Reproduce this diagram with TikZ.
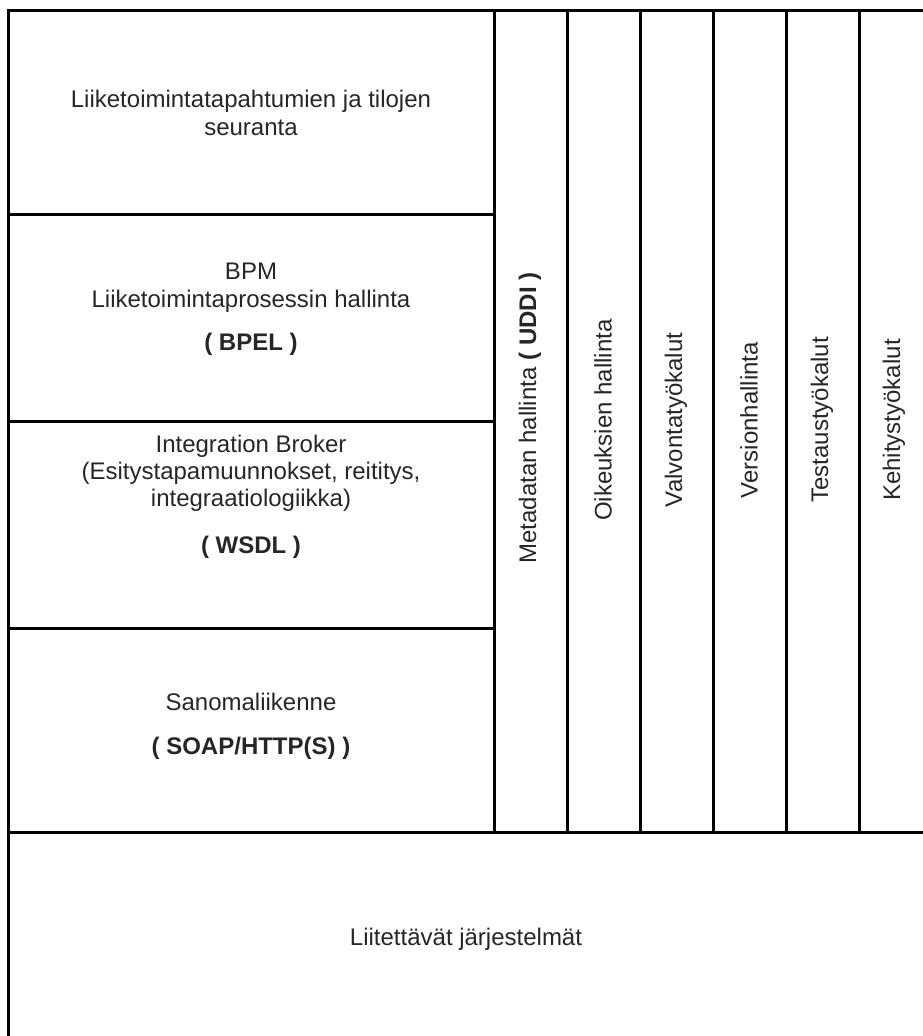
\documentclass[tikz,border=0pt]{standalone}
\usepackage{fontspec}
\setmainfont{Liberation Sans}
\begin{document}
\begin{tikzpicture}[x=1pt,y=-1pt,
  frame/.style={line width=3pt, draw=black, line join=miter},
  lbl/.style={font=\fontsize{24}{29}\selectfont, text=black!85, inner sep=0pt, anchor=base},
  vlbl/.style={font=\fontsize{24}{29}\selectfont, text=black!85, inner sep=0pt, rotate=90, anchor=center}]
\useasboundingbox (0,0) rectangle (923,1036);
% outer frame (top and left)
\draw[frame] (8,1036) -- (8,10) -- (923,10);
% left column separators
\draw[frame] (8,214) -- (494,214);
\draw[frame] (8,421) -- (494,421);
\draw[frame] (8,628) -- (494,628);
% bottom separator
\draw[frame] (8,832) -- (923,832);
% vertical columns
\foreach \x in {494,567,640,713,786,859}
  \draw[frame] (\x,10) -- (\x,832);
% row 1
\node[lbl] (r1a) at (251,107) {Liiketoimintatapahtumien ja tilojen};
\node[lbl] (r1b) at (251,135) {seuranta};
% row 2
\node[lbl] (r2a) at (251,279) {BPM};
\node[lbl] (r2b) at (251,307) {Liiketoimintaprosessin hallinta};
\node[lbl] (r2c) at (251,350) {\bfseries ( BPEL )};
% row 3
\node[lbl] (r3a) at (251,452) {Integration Broker};
\node[lbl] (r3b) at (251,479) {(Esitystapamuunnokset, reititys,};
\node[lbl] (r3c) at (251,506) {integraatiologiikka)};
\node[lbl] (r3d) at (251,553) {\bfseries ( WSDL )};
% row 4
\node[lbl] (r4a) at (251,710) {Sanomaliikenne};
\node[lbl] (r4b) at (251,754) {\bfseries ( SOAP/HTTP(S) )};
% bottom
\node[lbl] (r5) at (466,945) {Liitettävät järjestelmät};
% vertical labels
\node[vlbl] (c1) at (530,418) {Metadatan hallinta \textbf{( UDDI )}};
\node[vlbl] (c2) at (603,420) {Oikeuksien hallinta};
\node[vlbl] (c3) at (676,420) {Valvontatyökalut};
\node[vlbl] (c4) at (749,420) {Versionhallinta};
\node[vlbl] (c5) at (822,420) {Testaustyökalut};
\node[vlbl] (c6) at (894,420) {Kehitystyökalut};
\end{tikzpicture}
\end{document}
